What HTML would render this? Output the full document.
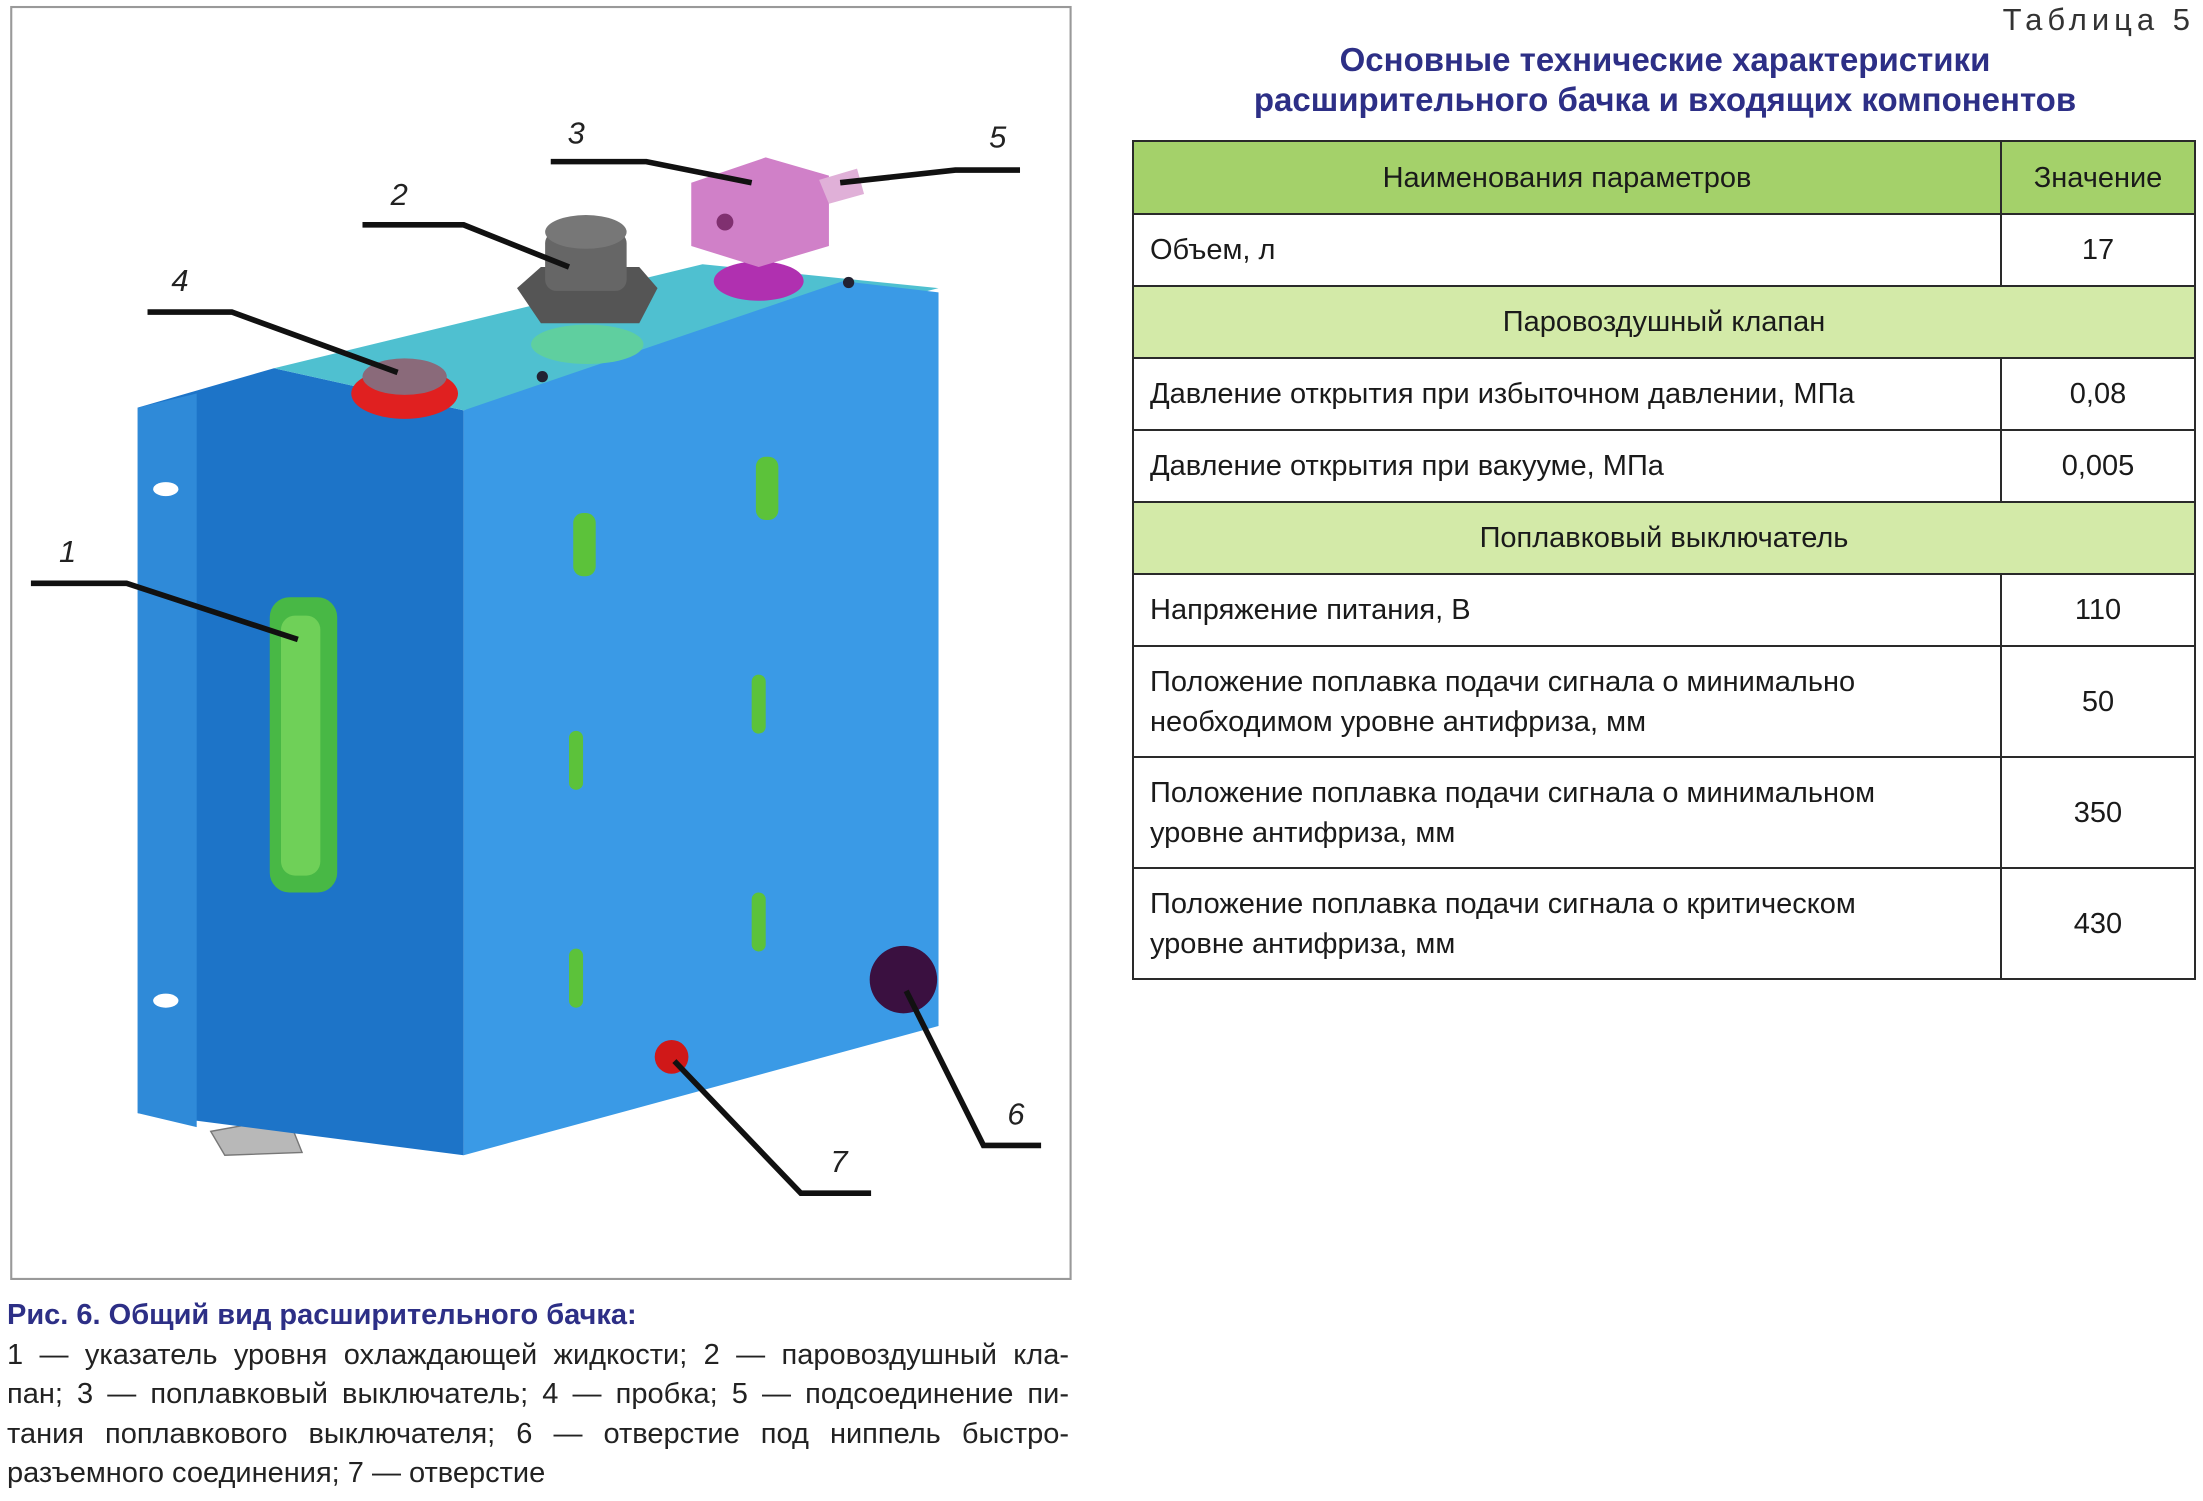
<!DOCTYPE html>
<html><head><meta charset="utf-8"><style>
body{margin:0;width:2203px;height:1501px;background:#fff;position:relative;overflow:hidden;font-family:"Liberation Sans",sans-serif;}
.abs{position:absolute}
svg{position:absolute;left:0;top:0}
.t5{right:8px;top:2px;font-size:31px;letter-spacing:5px;color:#333}
.ttl{left:1150px;width:1030px;top:40px;text-align:center;color:#2d2f86;font-weight:bold;font-size:33px;line-height:40px;}
table{position:absolute;left:1132px;top:140px;width:1064px;border-collapse:collapse;font-size:29px;color:#1a1a1a}
td{border:2px solid #2a2a2a;padding:0 16px;line-height:40px}
.h td{background:#a4d16a;text-align:center;height:71px}
.s td{background:#d3eaa8;text-align:center;height:70px}
td.v{text-align:center;width:160px}
.r td{height:70px}
.r2 td{height:109px}
.cap{left:7px;top:1296px;width:1062px;font-size:29px;line-height:39.5px;color:#222}
.cap b{color:#2d2f86}
.cap div{text-align:justify;text-align-last:justify;white-space:nowrap}
.cap div.l{text-align-last:left}
</style></head><body>
<svg width="2203" height="1501" viewBox="0 0 1568 1068" preserveAspectRatio="none">
<rect x="8" y="5" width="754" height="905" fill="none" stroke="#999" stroke-width="1.5"/>
<polygon points="150,805 205,795 215,820 160,822" fill="#b8b8b8" stroke="#777"/>
<polygon points="98,290 195,262 330,292 330,822 98,792" fill="#1d74c8"/>
<polygon points="98,290 140,280 140,802 98,792" fill="#2f8ad8"/>
<polygon points="195,262 500,188 668,205 330,292" fill="#4fc0d0"/>
<polygon points="330,292 600,200 668,208 668,730 330,822" fill="#3a9ae6"/>
<g fill="#5cc23a">
<rect x="408" y="365" width="16" height="45" rx="7"/><rect x="538" y="325" width="16" height="45" rx="7"/>
<rect x="405" y="520" width="10" height="42" rx="5"/><rect x="535" y="480" width="10" height="42" rx="5"/>
<rect x="405" y="675" width="10" height="42" rx="5"/><rect x="535" y="635" width="10" height="42" rx="5"/>
</g>
<rect x="192" y="425" width="48" height="210" rx="14" fill="#48b845"/>
<rect x="200" y="438" width="28" height="185" rx="10" fill="#6fd058"/>
<ellipse cx="118" cy="348" rx="9" ry="5" fill="#fff"/><ellipse cx="118" cy="712" rx="9" ry="5" fill="#fff"/>
<ellipse cx="288" cy="280" rx="38" ry="18" fill="#e02020"/><ellipse cx="288" cy="268" rx="30" ry="13" fill="#8a6a7a"/>
<ellipse cx="418" cy="245" rx="40" ry="14" fill="#5fcf9f"/>
<polygon points="368,205 385,190 455,190 468,205 455,230 385,230" fill="#555"/>
<rect x="388" y="165" width="58" height="42" rx="8" fill="#666"/><ellipse cx="417" cy="165" rx="29" ry="12" fill="#777"/>
<ellipse cx="540" cy="200" rx="32" ry="14" fill="#b030b0"/>
<polygon points="492,130 545,112 590,125 590,175 540,190 492,175" fill="#d080c8"/>
<polygon points="583,128 610,120 615,138 590,145" fill="#e0b0d8"/>
<circle cx="516" cy="158" r="6" fill="#803070"/>
<circle cx="643" cy="697" r="24" fill="#3a1040"/><circle cx="478" cy="752" r="12" fill="#d01818"/>
<circle cx="604" cy="201" r="4" fill="#223"/><circle cx="386" cy="268" r="4" fill="#223"/>
<g fill="none" stroke="#111" stroke-width="4">
<polyline points="22,415 90,415 212,455"/>
<polyline points="258,160 330,160 405,190"/>
<polyline points="392,115 460,115 535,130"/>
<polyline points="105,222 165,222 283,265"/>
<polyline points="726,121 680,121 598,130"/>
<polyline points="741,815 700,815 645,705"/>
<polyline points="620,849 570,849 480,755"/>
</g>
<g font-family="Liberation Sans,sans-serif" font-style="italic" font-size="22" fill="#222">
<text x="42" y="400">1</text><text x="278" y="146">2</text><text x="404" y="102">3</text>
<text x="122" y="207">4</text><text x="704" y="105">5</text><text x="717" y="800">6</text><text x="591" y="834">7</text>
</g>
</svg>
<div class="abs t5">Таблица 5</div>
<div class="abs ttl">Основные технические характеристики<br>расширительного бачка и входящих компонентов</div>
<table>
<tr class="h"><td>Наименования параметров</td><td class="v">Значение</td></tr>
<tr class="r"><td>Объем, л</td><td class="v">17</td></tr>
<tr class="s"><td colspan="2">Паровоздушный клапан</td></tr>
<tr class="r"><td>Давление открытия при избыточном давлении, МПа</td><td class="v">0,08</td></tr>
<tr class="r"><td>Давление открытия при вакууме, МПа</td><td class="v">0,005</td></tr>
<tr class="s"><td colspan="2">Поплавковый выключатель</td></tr>
<tr class="r"><td>Напряжение питания, В</td><td class="v">110</td></tr>
<tr class="r2"><td>Положение поплавка подачи сигнала о минимально<br>необходимом уровне антифриза, мм</td><td class="v">50</td></tr>
<tr class="r2"><td>Положение поплавка подачи сигнала о минимальном<br>уровне антифриза, мм</td><td class="v">350</td></tr>
<tr class="r2"><td>Положение поплавка подачи сигнала о критическом<br>уровне антифриза, мм</td><td class="v">430</td></tr>
</table>
<div class="abs cap"><b>Рис. 6. Общий вид расширительного бачка:</b>
<div>1 — указатель уровня охлаждающей жидкости; 2 — паровоздушный кла-</div>
<div>пан; 3 — поплавковый выключатель; 4 — пробка; 5 — подсоединение пи-</div>
<div>тания поплавкового выключателя; 6 — отверстие под ниппель быстро-</div>
<div class="l">разъемного соединения; 7 — отверстие</div></div>
</body></html>
